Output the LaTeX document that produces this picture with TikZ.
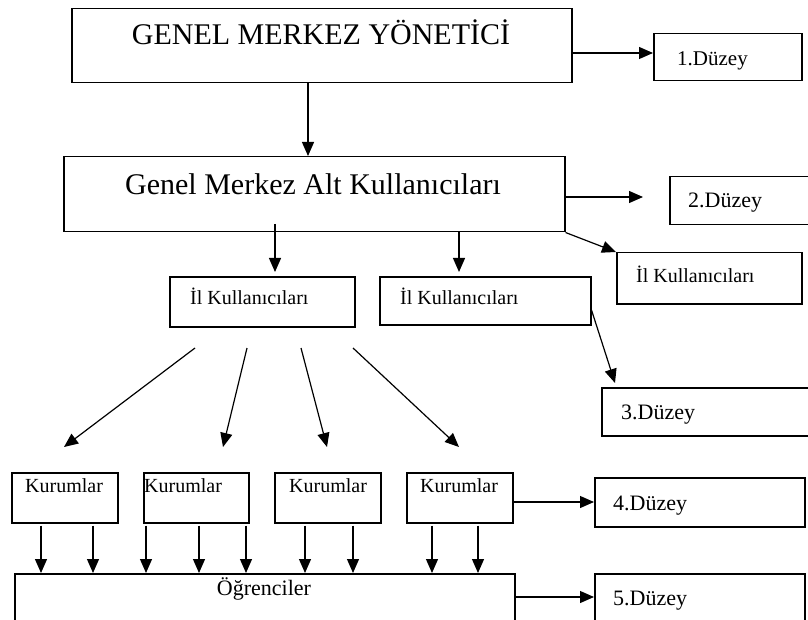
\documentclass[tikz,border=0pt]{standalone}
\usepackage{fontspec}
\setmainfont{Liberation Serif}
\usetikzlibrary{arrows.meta,calc}
\begin{document}
\begin{tikzpicture}[x=1pt,y=-1pt,
  box/.style={draw, line width=1.5pt, inner sep=0pt, anchor=north west},
  arr/.style={line width=1.2pt, -{Triangle[length=14pt,width=12pt]}},
  big/.style={font=\fontsize{30}{34}\selectfont, inner sep=0pt},
  lvl/.style={font=\fontsize{22}{26}\selectfont, inner sep=0pt, anchor=base west},
  small/.style={font=\fontsize{20}{24}\selectfont, inner sep=0pt, anchor=base west}]
\useasboundingbox (0,0) rectangle (808,620);
% boxes
\node[box, minimum width=500pt, minimum height=74pt] (b1) at (71,8) {};
\node[box, minimum width=148pt, minimum height=47pt] (d1) at (653,33) {};
\node[box, minimum width=501pt, minimum height=75pt] (b2) at (63,156) {};
\node[box, minimum width=150pt, minimum height=48pt] (d2) at (669,176) {};
\node[box, minimum width=185pt, minimum height=51pt] (r) at (616,252) {};
\node[box, minimum width=185pt, minimum height=50pt] (i1) at (169,276) {};
\node[box, minimum width=211pt, minimum height=48pt] (i2) at (379,276) {};
\node[box, minimum width=215pt, minimum height=48pt] (d3) at (601,387) {};
\node[box, minimum width=106pt, minimum height=50pt] (k1) at (11,472) {};
\node[box, minimum width=105pt, minimum height=50pt] (k2) at (143,472) {};
\node[box, minimum width=106pt, minimum height=50pt] (k3) at (274,472) {};
\node[box, minimum width=106pt, minimum height=50pt] (k4) at (406,472) {};
\node[box, minimum width=210pt, minimum height=49pt] (d4) at (594,477) {};
\node[box, minimum width=500pt, minimum height=60pt] (o) at (14,573) {};
\node[box, minimum width=210pt, minimum height=60pt] (d5) at (594,573) {};
% texts
\node[big, anchor=base] (t1) at (321,45) {GENEL MERKEZ YÖNETİCİ};
\node[lvl, font=\fontsize{21}{25}\selectfont] (td1) at (677,66) {1.Düzey};
\node[big, anchor=base] (t2) at (313,195) {Genel Merkez Alt Kullanıcıları};
\node[lvl] (td2) at (688,208) {2.Düzey};
\node[small] (tr) at (636,282) {İl Kullanıcıları};
\node[small] (ti1) at (190,305) {İl Kullanıcıları};
\node[small] (ti2) at (400,305) {İl Kullanıcıları};
\node[lvl] (td3) at (621,419) {3.Düzey};
\node[small] (tk1) at (25,492) {Kurumlar};
\node[small] (tk2) at (144,492) {Kurumlar};
\node[small] (tk3) at (289,492) {Kurumlar};
\node[small] (tk4) at (420,492) {Kurumlar};
\node[lvl] (td4) at (613,510) {4.Düzey};
\node[lvl, anchor=base] (to) at (264,595) {Öğrenciler};
\node[lvl] (td5) at (613,605) {5.Düzey};
% free end coordinates
\coordinate (e2) at (643,197);
\coordinate (s3) at (275,224);
\coordinate (e3) at (275,272);
\coordinate (e4) at (459,272);
\coordinate (e5) at (615,383);
\coordinate (g1) at (195,348); \coordinate (h1) at (64,447);
\coordinate (g2) at (247,348); \coordinate (h2) at (223,447);
\coordinate (g3) at (301,348); \coordinate (h3) at (327,447);
\coordinate (g4) at (353,348); \coordinate (h4) at (459,447);
% connectors
\draw[arr] (b1.east |- 0,53) -- (d1.west |- 0,53);
\draw[arr] (308,0 |- b1.south) -- (308,0 |- b2.north);
\draw[arr] (b2.east |- e2) -- (e2);
\draw[arr] (b2.south east) -- (r.north west);
\draw[arr] (s3) -- (e3);
\draw[arr] (e4 |- b2.south) -- (e4);
\draw[arr] (i2.east |- 0,310) -- (e5);
\draw[arr] (g1) -- (h1);
\draw[arr] (g2) -- (h2);
\draw[arr] (g3) -- (h3);
\draw[arr] (g4) -- (h4);
\draw[arr] (k4.east |- 0,502) -- (d4.west |- 0,502);
\foreach \x/\k in {41/k1,93/k1,146/k2,199/k2,246/k2,305/k3,353/k3,432/k4,478/k4}
  \draw[arr] (\x,0 |- \k.south) ++(0,2) -- (\x,0 |- o.north);
\draw[arr] (o.east |- 0,597) -- (d5.west |- 0,597);
\end{tikzpicture}
\end{document}
